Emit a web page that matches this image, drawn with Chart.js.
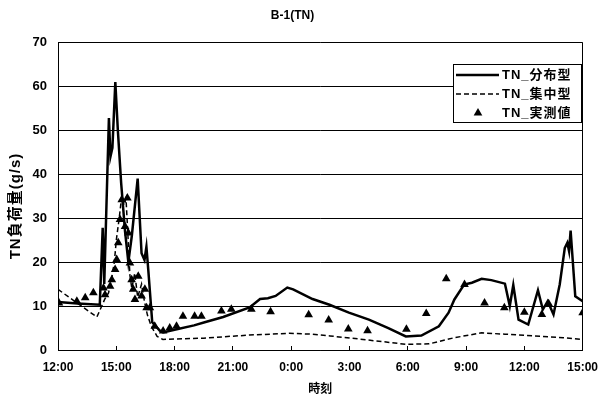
<!DOCTYPE html>
<html>
<head>
<meta charset="utf-8">
<script src="https://cdn.jsdelivr.net/npm/chart.js@4/dist/chart.umd.min.js"></script>
<style>
  body { margin: 0; background: #fff; }
</style>
</head>
<body>
<canvas id="grafico" width="612" height="402"></canvas>
<script>
// hours counted from 12:00 on the first day
const tickLabels = ['12:00', '15:00', '18:00', '21:00', '0:00', '3:00', '6:00', '9:00', '12:00', '15:00'];

const bunpuHoras = [0, 1.0, 2.15, 2.3, 2.38, 2.62, 2.7, 2.8, 2.95, 3.08,
    3.25, 3.45, 3.62, 3.8, 4.1, 4.3, 4.45, 4.55, 4.65, 4.85,
    5.24, 5.41, 6.0, 7.0, 7.55, 8.5, 9.86, 10.4, 10.8, 11.2,
    11.8, 12.1, 13.1, 13.97, 14.97, 16.0, 17.0, 17.9, 18.7, 19.6,
    20.1, 20.4, 20.9, 21.3, 21.8, 22.3, 23.0, 23.25, 23.43, 23.7,
    24.2, 24.7, 24.95, 25.2, 25.5, 25.82, 26.08, 26.21, 26.3, 26.38,
    26.62, 27.0];
const bunpuValores = [10.9, 10.6, 10.3, 27.8, 15, 52.8, 44, 46, 61, 50,
    38, 27, 20, 26, 39, 22, 20.5, 23.5, 18, 6.3,
    4.4, 4.0, 4.6, 5.6, 6.3, 7.5, 9.7, 11.6, 11.8, 12.3,
    14.2, 13.8, 11.6, 10.3, 8.5, 6.9, 5.0, 3.1, 3.3, 5.4,
    8.5, 11.5, 14.9, 15.3, 16.2, 15.9, 15.1, 10.0, 14.8, 6.9,
    5.8, 13.6, 9.2, 11.1, 8.1, 14.9, 23.2, 24.4, 22.5, 27.2,
    12.2, 11.1];

const shuchuHoras = [0, 2.0, 2.4, 2.6, 2.75, 2.9, 3.0, 3.15, 3.28, 3.4,
    3.5, 3.6, 3.7, 3.8, 3.95, 4.1, 4.3, 4.45, 4.6, 4.8,
    5.1, 5.4, 7.5, 9.85, 11.9, 13.1, 14.0, 15.7, 17.9, 19.1,
    20.4, 21.8, 23.0, 24.9, 26.0, 27.0];
const shuchuValores = [13.8, 7.5, 11.5, 13, 16, 20, 25, 30, 35, 33,
    34.5, 26, 17, 14, 17.5, 12, 15, 11, 8, 5.4,
    3.1, 2.4, 2.7, 3.4, 3.8, 3.6, 3.2, 2.4, 1.3, 1.4,
    2.8, 3.9, 3.6, 3.1, 2.8, 2.4];

const jissokuHoras = [0.05, 0.97, 1.4, 1.82, 2.34, 2.42, 2.68, 2.77, 2.94, 3.02,
    3.1, 3.19, 3.28, 3.45, 3.57, 3.62, 3.7, 3.79, 3.87, 3.96,
    4.13, 4.3, 4.47, 4.56, 4.73, 4.98, 5.41, 5.75, 6.1, 6.43,
    7.03, 7.38, 8.41, 8.92, 9.95, 10.94, 12.9, 13.93, 14.94, 15.93,
    17.93, 18.95, 19.98, 20.92, 21.95, 22.97, 24.0, 24.9, 25.25, 27.0];
const jissokuValores = [10.7, 11.1, 11.9, 13.0, 14.1, 12.6, 14.5, 16.0, 18.3, 20.6,
    24.4, 29.7, 34.2, 28.1, 34.6, 26.6, 19.8, 16.0, 13.8, 11.5,
    16.8, 12.3, 13.8, 9.6, 9.6, 5.4, 4.3, 5.0, 5.4, 7.7,
    7.7, 7.7, 8.9, 9.3, 9.3, 8.7, 8.0, 6.8, 4.8, 4.4,
    4.7, 8.3, 16.2, 14.9, 10.7, 9.6, 8.6, 8.1, 10.5, 8.5];

const tituloY = 'TN負荷量(g/s)';
const fonte = 'Arial, "Liberation Sans", "Noto Sans CJK JP", sans-serif';

function pares(horas, valores) {
    return horas.map((h, i) => ({ x: h, y: valores[i] }));
}

// legend inside the plot with a box round it, plus the y title
const legendaCaixa = {
    id: 'legendaCaixa',
    afterDraw(chart) {
        const ctx = chart.ctx;
        const area = chart.chartArea;
        const w = 128, h = 58;
        const left = Math.round(area.right) - w - 2;
        const top = Math.round(area.top) + 22;
        ctx.save();
        ctx.fillStyle = '#fff';
        ctx.fillRect(left, top, w, h);
        ctx.strokeStyle = '#000';
        ctx.lineWidth = 1;
        ctx.setLineDash([]);
        ctx.strokeRect(left + 0.5, top + 0.5, w, h);
        ctx.font = 'bold 13px ' + fonte;
        ctx.letterSpacing = '1px';
        ctx.fillStyle = '#000';
        ctx.textBaseline = 'middle';
        chart.data.datasets.forEach((ds, i) => {
            const y = top + 11 + i * 19;
            if (ds.showLine) {
                ctx.beginPath();
                ctx.lineWidth = ds.borderWidth;
                ctx.setLineDash(ds.borderDash || []);
                ctx.moveTo(left + 3, y);
                ctx.lineTo(left + 46, y);
                ctx.stroke();
                ctx.setLineDash([]);
            } else {
                const cx = left + 25, r = 5;
                ctx.beginPath();
                ctx.moveTo(cx, y - r);
                ctx.lineTo(cx + r * 0.866, y + r / 2);
                ctx.lineTo(cx - r * 0.866, y + r / 2);
                ctx.closePath();
                ctx.fill();
            }
            ctx.fillText(ds.label, left + 49, y);
        });

        ctx.translate(16, 206);
        ctx.rotate(-Math.PI / 2);
        ctx.textAlign = 'center';
        ctx.font = 'bold 15px ' + fonte;
        ctx.letterSpacing = '1px';
        ctx.fillText(tituloY, 0, 0);
        ctx.restore();
    }
};

const ctx = document.getElementById('grafico').getContext('2d');
new Chart(ctx, {
    type: 'scatter',
    data: {
        datasets: [{
            label: 'TN_分布型',
            data: pares(bunpuHoras, bunpuValores),
            showLine: true,
            borderColor: '#000',
            borderWidth: 2.5,
            pointRadius: 0,
            tension: 0
        }, {
            label: 'TN_集中型',
            data: pares(shuchuHoras, shuchuValores),
            showLine: true,
            borderColor: '#000',
            borderWidth: 1.5,
            borderDash: [5, 3],
            pointRadius: 0,
            tension: 0
        }, {
            label: 'TN_実測値',
            data: pares(jissokuHoras, jissokuValores),
            showLine: false,
            pointStyle: 'triangle',
            pointRadius: 5,
            pointBorderWidth: 0,
            backgroundColor: '#000',
            borderColor: '#000'
        }]
    },
    options: {
        responsive: false,
        animation: false,
        layout: { padding: { left: 0, right: 27, top: 0, bottom: 0 } },
        plugins: {
            legend: { display: false },
            tooltip: { enabled: false },
            title: {
                display: true,
                text: 'B-1(TN)',
                color: '#000',
                font: { family: fonte, size: 12, weight: 'bold' },
                padding: { top: 8, bottom: 20 }
            }
        },
        scales: {
            x: {
                type: 'linear',
                min: 0,
                max: 27,
                afterFit: (scale) => { scale.height = 52; },
                ticks: {
                    stepSize: 3,
                    autoSkip: false,
                    maxRotation: 0,
                    padding: 14,
                    color: '#000',
                    font: { family: fonte, size: 12, weight: 'bold' },
                    callback: (valor, i) => tickLabels[i]
                },
                grid: {
                    color: (c) => (c.index === 0 || c.index === tickLabels.length - 1) ? '#000' : 'rgba(0,0,0,0)',
                    tickColor: '#000',
                    tickLength: -4,
                    lineWidth: 1
                },
                border: { color: '#000', width: 1 },
                title: {
                    display: true,
                    text: '時刻',
                    color: '#000',
                    font: { family: fonte, size: 12, weight: 'bold' },
                    padding: { top: 0, bottom: 5 }
                }
            },
            y: {
                min: 0,
                max: 70,
                afterFit: (scale) => { scale.width = 58; },
                ticks: {
                    stepSize: 10,
                    padding: 11,
                    color: '#000',
                    font: { family: fonte, size: 13, weight: 'bold' }
                },
                grid: { color: '#000', lineWidth: 1, drawTicks: false },
                border: { color: '#000', width: 1 }
            }
        }
    },
    plugins: [legendaCaixa]
});
</script>
</body>
</html>
